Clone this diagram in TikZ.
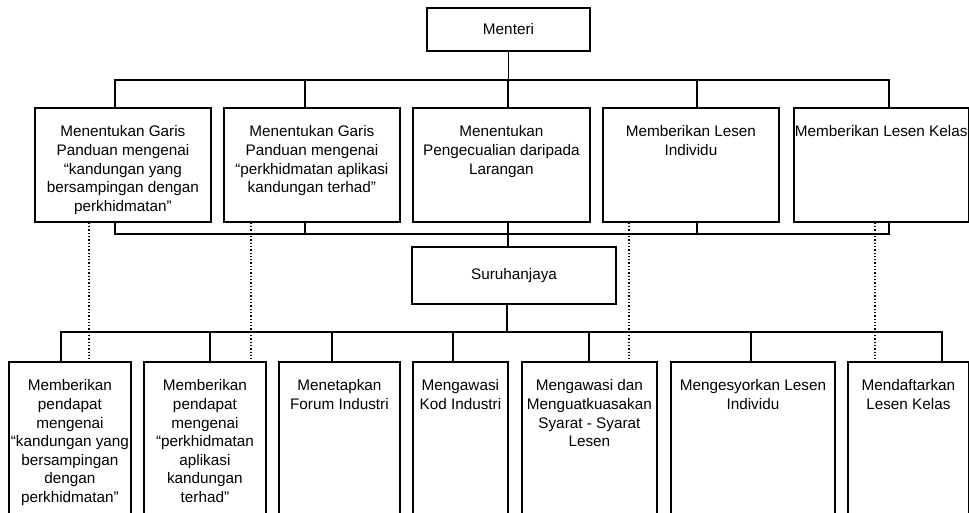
\documentclass[tikz,border=0pt]{standalone}
\usepackage{fontspec}
\setmainfont{Liberation Sans}
\newcommand{\bxt}[3]{\parbox[c][#2][t]{#1}{\centering\vspace*{18pt}#3\par}}
\begin{document}
\begin{tikzpicture}[x=1pt,y=-1pt,
  every node/.style={font=\fontsize{15.3}{18.6}\selectfont},
  bx/.style={draw, line width=1.8pt, inner sep=0pt, anchor=north west},
  cbx/.style={draw, line width=1.8pt, inner sep=0pt},
  ln/.style={line width=1.8pt},
  dt/.style={line width=1.3pt, dash pattern=on 1.3pt off 2pt}]
\useasboundingbox (0,0) rectangle (969,513);
\clip (0,0) rectangle (969,513);
\fill[white] (0,0) rectangle (969,513);

% top
\node[cbx, minimum width=163pt, minimum height=43pt] (men) at (508.5,29.5) {Menteri};

\node[bx] (t1) at (34,107) {\bxt{176pt}{114pt}{Menentukan Garis\\Panduan mengenai\\“kandungan yang\\bersampingan dengan\\perkhidmatan”}};
\node[bx] (t2) at (223,107) {\bxt{176pt}{114pt}{Menentukan Garis\\Panduan mengenai\\“perkhidmatan aplikasi\\kandungan terhad”}};
\node[bx] (t3) at (412,107) {\bxt{177pt}{114pt}{Menentukan\\Pengecualian daripada\\Larangan}};
\node[bx] (t4) at (602,107) {\bxt{176pt}{114pt}{Memberikan Lesen\\Individu}};
\node[bx] (t5) at (793,107) {\parbox[c][114pt][t]{175pt}{\raggedright\vspace*{18pt}\hspace*{1pt}\mbox{Memberikan Lesen Kelas}\par}};

\node[cbx, minimum width=204pt, minimum height=57pt] (sur) at (514,275.5) {Suruhanjaya};

% bottom row
\node[bx] (b1) at (8,361) {\bxt{122pt}{169pt}{Memberikan\\pendapat\\mengenai\\“kandungan yang\\bersampingan\\dengan\\perkhidmatan”}};
\node[bx] (b2) at (143,361) {\bxt{122pt}{169pt}{Memberikan\\pendapat\\mengenai\\“perkhidmatan\\aplikasi\\kandungan\\terhad”}};
\node[bx] (b3) at (278,361) {\bxt{121pt}{169pt}{Menetapkan\\Forum Industri}};
\node[bx] (b4) at (412,361) {\bxt{95pt}{169pt}{Mengawasi\\Kod Industri}};
\node[bx] (b5) at (521,361) {\bxt{135pt}{169pt}{Mengawasi dan\\Menguatkuasakan\\Syarat - Syarat\\Lesen}};
\node[bx] (b6) at (670,361) {\bxt{164pt}{169pt}{Mengesyorkan Lesen\\Individu}};
\node[bx] (b7) at (847,361) {\bxt{121pt}{169pt}{Mendaftarkan\\Lesen Kelas}};

% bus coordinates
\coordinate (ua) at (115,80);
\coordinate (ub) at (305,80);
\coordinate (uc) at (508,80);
\coordinate (ud) at (697,80);
\coordinate (ue) at (889,80);
\coordinate (la) at (115,234);
\coordinate (lb) at (305,234);
\coordinate (lc) at (508,234);
\coordinate (ld) at (697,234);
\coordinate (le) at (889,234);
\coordinate (sx) at (507,332);
\coordinate (s1) at (61,332);
\coordinate (s2) at (210,332);
\coordinate (s3) at (332,332);
\coordinate (s4) at (453,332);
\coordinate (s5) at (589,332);
\coordinate (s6) at (751,332);
\coordinate (s7) at (942,332);
\coordinate (d1) at (89,0);
\coordinate (d2) at (251,0);
\coordinate (d3) at (629,0);
\coordinate (d4) at (875,0);

% Menteri to top row
\draw[ln] (men.south) -- (men.south |- uc);
\draw[ln, line cap=rect] (ua) -- (ue);
\foreach \p/\b in {ua/t1, ub/t2, uc/t3, ud/t4, ue/t5}
  \draw[ln] (\p) -- (\p |- \b.north);
% lower bus of top row
\draw[ln, line cap=rect] (la) -- (le);
\foreach \p/\b in {la/t1, lb/t2, ld/t4, le/t5}
  \draw[ln] (\p) -- (\p |- \b.south);
\draw[ln] (lc |- t3.south) -- (lc |- sur.north);

% Suruhanjaya to bottom row
\draw[ln] (sx |- sur.south) -- (sx);
\draw[ln, line cap=rect] (s1) -- (s7);
\foreach \p/\b in {s1/b1, s2/b2, s3/b3, s4/b4, s5/b5, s6/b6, s7/b7}
  \draw[ln] (\p) -- (\p |- \b.north);

% dotted links
\draw[dt] (d1 |- t1.south) -- (d1 |- b1.north);
\draw[dt] (d2 |- t2.south) -- (d2 |- b2.north);
\draw[dt] (d3 |- t4.south) -- (d3 |- b5.north);
\draw[dt] (d4 |- t5.south) -- (d4 |- b7.north);
\end{tikzpicture}
\end{document}
